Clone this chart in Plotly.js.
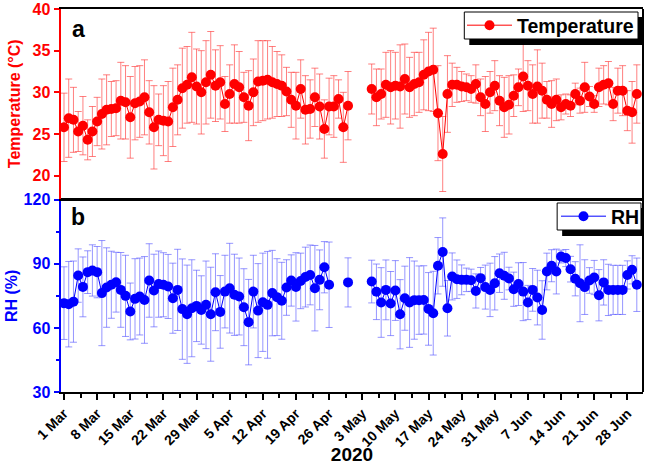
<!DOCTYPE html>
<html>
<head>
<meta charset="utf-8">
<script src="https://cdn.plot.ly/plotly-3.0.1.min.js"></script>
<style>html,body{margin:0;padding:0;background:#fff;}#chart{width:649px;height:465px;}</style>
</head>
<body>
<div id="chart"></div>
<script>
// ---- data (daily, 1 Mar - 30 Jun 2020; null = no data) ----
const startDate = '2020-03-01';
const tempMar = [25.8,26.9,26.7,25.3,26.0,24.3,25.3,26.5,27.4,27.9,28.0,28.1,29.0,28.8,27.0,28.7,28.9,29.4,27.6,25.8,26.7,26.6,26.5,28.2,29.1,30.5,30.9,31.8,30.7,30.0,31.2];
const tempApr = [32.1,30.8,31.2,28.6,29.8,31.0,30.6,29.4,28.4,30.0,31.3,31.4,31.5,31.2,31.0,30.8,30.1,29.1,28.4,30.4,27.9,28.0,29.4,28.3,25.6,28.3,28.3,29.2,25.8,28.4];
const tempMay = [null,null,null,null,30.4,29.4,29.8,30.9,30.6,30.8,30.7,31.6,30.6,31.0,31.2,32.1,32.5,32.7,27.5,22.6,29.8,30.9,30.9,30.7,30.6,30.4,31.0,29.4,28.6,30.0,30.8];
const tempJun = [29.0,28.2,28.5,29.6,30.6,31.9,30.8,29.8,30.7,30.2,29.1,28.6,29.1,28.2,28.6,28.4,29.8,29.0,30.6,29.5,28.6,30.6,30.9,31.1,28.6,30.2,30.2,27.8,27.6,29.8];

const tempErrMar = [4.1,4.7,3.9,2.4,3.5,2.4,3.0,2.9,4.2,4.2,3.3,3.3,4.6,4.4,4.9,4.4,4.3,4.5,3.8,5.0,3.1,4.2,4.8,4.7,4.2,4.8,4.6,5.4,4.5,5.0,5.0];
const tempErrApr = [5.2,4.3,4.4,3.3,3.5,4.7,4.3,3.0,4.2,4.0,4.9,4.8,4.7,4.3,3.9,3.7,2.9,3.3,4.0,3.5,4.1,3.5,3.5,3.9,3.5,3.4,3.7,2.3,4.2,4.1];
const tempErrMay = [null,null,null,null,3.0,3.4,3.0,3.9,4.4,4.0,5.0,4.2,3.6,3.8,3.6,4.2,4.7,5.0,5.7,4.5,4.6,2.6,2.1,1.8,1.6,1.6,2.3,2.2,3.3,2.5,3.0];
const tempErrJun = [3.0,3.6,3.5,2.5,2.2,4.2,3.0,3.5,4.4,3.3,2.2,2.8,2.5,1.5,1.2,1.3,1.3,1.5,3.0,1.2,1.0,2.3,2.3,2.6,2.0,2.7,3.0,2.4,3.7,3.5];

const rhMar = [71.6,71.1,72.3,84.5,79.2,86.1,86.9,86.1,76.3,78.9,80.2,81.4,77.8,75.0,67.7,73.6,74.7,73.1,82.2,77.5,80.5,80.2,79.4,73.9,77.8,68.8,66.4,69.2,70.3,68.4,70.8];
const rhApr = [66.4,76.7,67.5,77.0,78.6,75.5,74.7,69.7,62.7,77.0,68.1,72.0,70.8,76.3,74.4,72.7,78.9,82.2,79.2,82.0,83.8,84.8,78.6,82.5,88.4,80.2,null,null,null,81.3];
const rhMay = [null,null,null,null,81.7,76.9,71.9,77.8,71.4,77.5,66.4,73.9,71.9,73.0,73.0,73.1,68.9,66.9,89.1,95.5,69.2,84.1,82.8,82.5,82.5,82.3,77.3,83.3,79.1,77.8,80.9];
const rhJun = [85.6,84.4,83.1,78.1,80.5,77.0,71.9,77.8,74.2,68.4,86.4,89.1,86.4,93.4,92.7,87.5,83.0,80.9,79.1,82.2,83.6,75.3,81.3,77.8,77.8,77.8,77.8,84.8,87.2,80.2];

const rhErrMar = [17,20,19,12.5,14,10,12,12,24.6,18.6,15.7,14,17.5,19,13.3,18.8,18,20.3,17.2,17,15.5,15,15,16.4,19,23.5,23,22.7,16.7,16,20.5];
const rhErrApr = [22,18,17,17,21,19,18,18,20,17,22,23,25,20,18,18,13,12,16,13,14,14,20,14,12,20,null,null,null,11.5];
const rhErrMay = [null,null,null,null,10,13,16.3,14,15,14,16.2,15,21,18.3,16,16,17,19.6,13.2,16,13,11,9,7,5.5,5.2,8,5,10.3,12.5,12.5];
const rhErrJun = [9,11,5.3,8,10,13.6,8,10,12.8,13.7,8.6,7.5,10.5,3,4,6,8,18,12.8,6,8,12,10.6,12,11.5,11.5,11.5,6.6,6.6,12.5];

const tempTicks = [20,25,30,35,40];
const rhTicks = [30,60,90,120];

// ---- build ----
const temp = tempMar.concat(tempApr, tempMay, tempJun);
const tempErr = tempErrMar.concat(tempErrApr, tempErrMay, tempErrJun);
const rh = rhMar.concat(rhApr, rhMay, rhJun);
const rhErr = rhErrMar.concat(rhErrApr, rhErrMay, rhErrJun);

const dates = [];
const d0 = new Date(startDate + 'T00:00:00Z');
for (let i = 0; i < temp.length; i++) {
  const d = new Date(d0.getTime() + i * 86400000);
  dates.push(d.toISOString().slice(0, 10));
}

const FONT = 'Liberation Sans, Arial, sans-serif';

const traces = [
  {
    x: dates, y: temp, name: 'Temperature', xaxis: 'x2', yaxis: 'y',
    mode: 'lines+markers', legend: 'legend',
    line: {color: '#ff0000', width: 1},
    marker: {color: '#ff0000', size: 10},
    error_y: {type: 'data', array: tempErr, visible: true, color: 'rgba(255,60,60,0.65)', thickness: 1, width: 3.5}
  },
  {
    x: dates, y: rh, name: 'RH', xaxis: 'x', yaxis: 'y2',
    mode: 'lines+markers', legend: 'legend2',
    line: {color: '#0000ff', width: 1},
    marker: {color: '#0000ff', size: 10},
    error_y: {type: 'data', array: rhErr, visible: true, color: 'rgba(80,80,255,0.6)', thickness: 1, width: 3.5}
  }
];

const xRange = ['2020-02-29 08:50', '2020-07-01 07:25'];
const L = 61, R = 5, T = 9, B = 73, W = 649, H = 465;
const pw = W - L - R, ph = H - T - B;
const px = v => (v - L) / pw;
const py = v => (H - B - v) / ph;

const legendFont = {family: FONT, size: 19.5, color: '#000', weight: 'bold'};
// legend frames (pixel boxes) and their drop shadows
const BOX1 = {l: 465, r: 639, t: 12, b: 39};
const BOX2 = {l: 558, r: 642, t: 203, b: 230};

function rectPx(b, fill, lw) {
  return {type: 'rect', xref: 'paper', yref: 'paper', layer: 'above',
    x0: px(b.l), x1: px(b.r), y0: py(b.b), y1: py(b.t),
    fillcolor: fill, line: {color: '#000', width: lw}};
}
function shadowOf(b) {
  return {l: b.l + 5, r: Math.min(b.r + 5, W - R - 1), t: b.t + 5, b: b.b + 6};
}

const layout = {
  width: W, height: H,
  margin: {l: L, r: R, t: T, b: B},
  paper_bgcolor: '#fff', plot_bgcolor: '#fff',
  font: {family: FONT, color: '#000'},
  showlegend: true,
  xaxis: {
    type: 'date', range: xRange, anchor: 'y2', domain: [0, 1],
    tick0: '2020-03-01', dtick: 7 * 86400000, tickformat: '%-d %b', tickangle: -45,
    ticks: 'outside', ticklen: 6, tickwidth: 2, tickcolor: '#000',
    minor: {dtick: 3.5 * 86400000, tick0: '2020-03-01', ticks: 'outside', ticklen: 4, tickwidth: 2, tickcolor: '#000'},
    showline: true, linecolor: '#000', linewidth: 2, mirror: true,
    showgrid: false, zeroline: false,
    tickfont: {family: FONT, size: 14, color: '#000', weight: 'bold'},
    title: {text: '2020', font: {family: FONT, size: 19, color: '#000', weight: 'bold'}, standoff: 6}
  },
  xaxis2: {
    type: 'date', matches: 'x', anchor: 'y', domain: [0, 1],
    showticklabels: false, ticks: '', showgrid: false, zeroline: false,
    showline: true, linecolor: '#000', linewidth: 2.5, mirror: true
  },
  yaxis: {
    domain: [0.505, 1], range: [17.25, 40], anchor: 'x2',
    tickvals: tempTicks, ticks: 'outside', ticklen: 5, tickwidth: 2, tickcolor: '#ff0000',
    showline: true, linecolor: '#ff0000', linewidth: 2.5,
    showgrid: false, zeroline: false,
    tickfont: {family: FONT, size: 16, color: '#ff0000', weight: 'bold'},
    title: {text: 'Temperature (°C)', font: {family: FONT, size: 16, color: '#ff0000', weight: 'bold'}, standoff: 8}
  },
  yaxis2: {
    domain: [0, 0.502], range: [30, 120], anchor: 'x',
    tickvals: rhTicks, ticks: 'outside', ticklen: 5, tickwidth: 2, tickcolor: '#0000ff',
    minor: {dtick: 15, tick0: 30, ticks: 'outside', ticklen: 3, tickwidth: 2, tickcolor: '#0000ff'},
    showline: true, linecolor: '#0000ff', linewidth: 2.5,
    showgrid: false, zeroline: false,
    tickfont: {family: FONT, size: 16, color: '#0000ff', weight: 'bold'},
    title: {text: 'RH (%)', font: {family: FONT, size: 16, color: '#0000ff', weight: 'bold'}, standoff: 2}
  },
  legend: {
    x: px(462), y: py((BOX1.t + BOX1.b) / 2), xanchor: 'left', yanchor: 'middle',
    bgcolor: 'rgba(0,0,0,0)', borderwidth: 0, itemwidth: 45,
    font: legendFont
  },
  legend2: {
    x: px(556), y: py((BOX2.t + BOX2.b) / 2), xanchor: 'left', yanchor: 'middle',
    bgcolor: 'rgba(0,0,0,0)', borderwidth: 0, itemwidth: 45,
    font: legendFont
  },
  shapes: [
    {type: 'line', xref: 'paper', yref: 'paper', x0: 1, x1: 1, y0: 0, y1: 1, line: {color: '#000', width: 2}},
    rectPx(shadowOf(BOX1), '#000', 0),
    rectPx(BOX1, '#fff', 1),
    rectPx(shadowOf(BOX2), '#000', 0),
    rectPx(BOX2, '#fff', 1)
  ],
  annotations: [
    {text: 'a', xref: 'paper', yref: 'paper', x: px(78.5), y: py(29), xanchor: 'center', yanchor: 'middle', showarrow: false, font: {family: FONT, size: 23, color: '#000', weight: 'bold'}},
    {text: 'b', xref: 'paper', yref: 'paper', x: px(78.5), y: py(217), xanchor: 'center', yanchor: 'middle', showarrow: false, font: {family: FONT, size: 23, color: '#000', weight: 'bold'}}
  ]
};

Plotly.newPlot('chart', traces, layout, {displayModeBar: false, staticPlot: true});
</script>
</body>
</html>
